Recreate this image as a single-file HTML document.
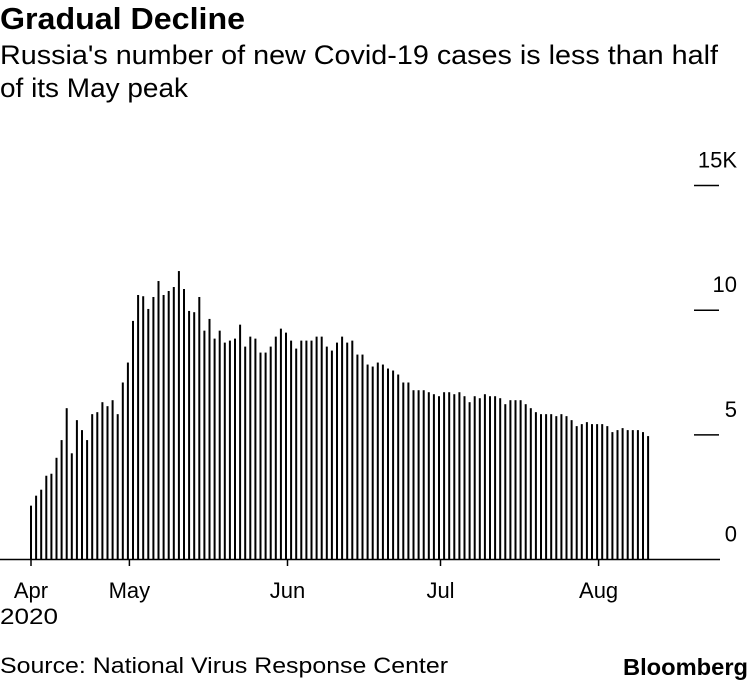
<!DOCTYPE html>
<html><head><meta charset="utf-8"><style>
html,body{margin:0;padding:0;background:#fff;}
svg{display:block;font-family:"Liberation Sans",sans-serif;}
</style></head><body>
<svg id="chart" width="750" height="684" viewBox="0 0 750 684">
<text x="0" y="29" font-size="31" font-weight="bold" textLength="245" lengthAdjust="spacingAndGlyphs">Gradual Decline</text>
<text x="0" y="64" font-size="27" textLength="718" lengthAdjust="spacingAndGlyphs">Russia's number of new Covid-19 cases is less than half</text>
<text x="0" y="97" font-size="27" textLength="188" lengthAdjust="spacingAndGlyphs">of its May peak</text>
<g id="bars"></g>
<g id="yaxis"></g>
<g id="xaxis"></g>
<text x="0" y="624" font-size="22" textLength="58" lengthAdjust="spacingAndGlyphs">2020</text>
<text x="0" y="673" font-size="22" textLength="448" lengthAdjust="spacingAndGlyphs">Source: National Virus Response Center</text>
<text x="748" y="675" font-size="23" font-weight="bold" text-anchor="end" textLength="125" lengthAdjust="spacingAndGlyphs">Bloomberg</text>
</svg>
<script>
const values = [2.16,2.56,2.80,3.36,3.44,4.08,4.79,6.07,4.26,5.59,5.19,4.79,5.83,5.91,6.31,6.15,6.39,5.83,7.10,7.90,
9.57,10.61,10.56,10.05,10.53,11.17,10.61,10.77,10.93,11.57,10.85,9.97,9.92,10.53,9.18,9.65,8.86,9.18,8.70,8.78,
8.86,9.42,8.54,8.94,8.86,8.30,8.30,8.54,8.94,9.26,9.10,8.78,8.46,8.78,8.78,8.78,8.94,8.94,8.54,8.38,8.70,
8.94,8.70,8.78,8.22,8.22,7.82,7.74,7.90,7.82,7.66,7.58,7.42,7.10,7.10,6.79,6.79,6.79,6.71,6.63,6.55,6.71,6.71,6.63,6.71,6.55,6.31,6.55,6.47,6.63,6.55,6.55,6.47,6.23,6.39,6.39,6.39,6.23,6.07,5.91,5.83,5.83,5.83,5.75,5.83,5.75,5.59,5.35,5.43,5.51,5.43,5.43,5.43,5.35,5.11,5.19,5.27,5.19,5.19,5.19,5.11,4.95];
const monthLabels = ["Apr","May","Jun","Jul","Aug"];
const monthIndex = [0,19,50,80,111];
const yTicks = [0,5,10,15];
const yTickLabels = ["0","5","10","15K"];
const NS="http://www.w3.org/2000/svg";
const x0=31, step=5.1;
function xs(i){return x0+i*step;}
function ys(v){return 559.5-v*24.93;}
function mk(tag,attrs,parent){const e=document.createElementNS(NS,tag);for(const k in attrs)e.setAttribute(k,attrs[k]);parent.appendChild(e);return e;}
const bars=document.getElementById('bars');
values.forEach((v,i)=>{
  const r=mk('rect',{x:xs(i)-1,y:ys(v),width:2,height:559.5-ys(v),fill:'#000'},bars);
  
  
});
const ya=document.getElementById('yaxis');
yTicks.forEach((t,i)=>{
  if(t>0){const l=mk('line',{x1:694,x2:719,y1:ys(t),y2:ys(t),stroke:'#000','stroke-width':1.5},ya);
  
  }
  const tx=mk('text',{x:737,y:ys(t)-18,'font-size':22,'text-anchor':'end'},ya);
  tx.textContent=yTickLabels[i];
  
  
});
const xa=document.getElementById('xaxis');
const base=mk('line',{x1:0,x2:720,y1:559.5,y2:559.5,stroke:'#000','stroke-width':1.5},xa);


monthLabels.forEach((m,i)=>{
  const x=xs(monthIndex[i])+ (i>0?1.5:0);
  const l=mk('line',{x1:x,x2:x,y1:559.5,y2:566,stroke:'#000','stroke-width':1.5},xa);
  
  
  const t=mk('text',{x:x,y:598,'font-size':22,'text-anchor':'middle'},xa);
  t.textContent=m;
  
  
});
</script>
</body></html>
